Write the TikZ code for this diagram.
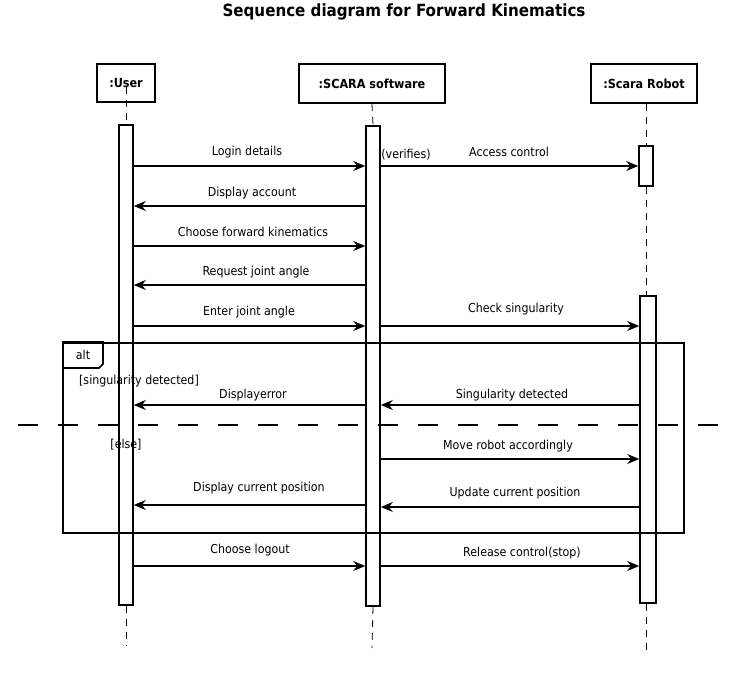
\documentclass[tikz,border=0pt]{standalone}
\usepackage{fontspec}
\setmainfont{DejaVu Sans Condensed}
\usetikzlibrary{arrows.meta}
\begin{document}
\begin{tikzpicture}[x=1pt,y=-1pt,
  head/.style={draw,line width=1.6pt,inner sep=0pt,font=\fontsize{12.5}{14}\selectfont\bfseries},
  act/.style={draw,line width=1.6pt,fill=white,inner sep=0pt,minimum width=14pt},
  life/.style={line width=0.8pt,dash pattern=on 7pt off 6pt},
  msg/.style={line width=1.5pt,-{Stealth[length=12pt,width=10pt]}},
  lbl/.style={font=\fontsize{12.3}{14}\selectfont,inner sep=0pt},
  frame/.style={line width=1.6pt}]
\useasboundingbox (0,0) rectangle (730,674);
% title
\node[font=\fontsize{16.8}{19}\selectfont\bfseries,inner sep=0pt] (title) at (404,12) {Sequence diagram for Forward Kinematics};
% heads
\node[head,minimum width=58pt,minimum height=38pt] (user) at (126,83) {:User};
\node[head,minimum width=146pt,minimum height=39pt] (soft) at (372,83.5) {:SCARA software};
\node[head,minimum width=106pt,minimum height=39pt] (robot) at (644,83.5) {:Scara Robot};
% lifeline end points
\coordinate (uend) at (126,645);
\coordinate (send) at (372,648);
\coordinate (rend) at (646,650);
\coordinate (ustart) at (126,87);
% activations
\node[act,minimum height=480pt] (ua) at (126,365) {};
\node[act,minimum height=480pt] (sa) at (373,366) {};
\node[act,minimum height=40pt] (ra1) at (646,166) {};
\node[act,minimum width=16pt,minimum height=307pt] (ra2) at (648,449.5) {};
% lifelines
\draw[life] (ustart) -- (ua.north);
\draw[life] (ua.south) -- (uend);
\draw[life] (soft.south) -- (sa.north);
\draw[life] (sa.south) -- (send);
\draw[life] (robot.south -| ra1.north) -- (ra1.north);
\draw[life] (ra1.south) -- (ra1.south |- ra2.north);
\draw[life] (ra2.south -| rend) -- (rend);
% redraw activations on top
\node[act,minimum height=480pt] at (126,365) {};
\node[act,minimum height=480pt] at (373,366) {};
\node[act,minimum height=40pt] at (646,166) {};
\node[act,minimum width=16pt,minimum height=307pt] at (648,449.5) {};
% alt frame
\node[draw,frame,minimum width=621pt,minimum height=190pt,anchor=north west,inner sep=0pt] (alt) at (62,342) {};
\draw[frame] (alt.north west) -- (103,342) -- (103,364) -- (99,368) -- (62,368);
\node[lbl] (altl) at (83,355) {alt};
\node[lbl] (g1) at (139,381) {[singularity detected]};
\node[lbl] (g2) at (126,445) {[else]};
\coordinate (dl) at (18,425);
\coordinate (dr) at (720,425);
\draw[line width=1.5pt,dash pattern=on 20pt off 20pt] (dl) -- (dr);
% message y coordinates
\coordinate (m1) at (0,166);
\coordinate (m2) at (0,206);
\coordinate (m3) at (0,246);
\coordinate (m4) at (0,285);
\coordinate (m5) at (0,326);
\coordinate (m6) at (0,405);
\coordinate (m7) at (0,459);
\coordinate (m8) at (0,505);
\coordinate (m9) at (0,507);
\coordinate (m10) at (0,566);
% messages
\draw[msg] (ua.east |- m1) -- (sa.west |- m1);
\node[lbl] at (247,152) {Login details};
\node[lbl] at (406,155) {(verifies)};
\draw[msg] (sa.east |- m1) -- (ra1.west |- m1);
\node[lbl] at (509,152) {Access control};
\draw[msg] (sa.west |- m2) -- (ua.east |- m2);
\node[lbl] at (252,193) {Display account};
\draw[msg] (ua.east |- m3) -- (sa.west |- m3);
\node[lbl] at (253,232) {Choose forward kinematics};
\draw[msg] (sa.west |- m4) -- (ua.east |- m4);
\node[lbl] at (256,272) {Request joint angle};
\draw[msg] (ua.east |- m5) -- (sa.west |- m5);
\node[lbl] at (249,312) {Enter joint angle};
\draw[msg] (sa.east |- m5) -- (ra2.west |- m5);
\node[lbl] at (516,309) {Check singularity};
\draw[msg] (sa.west |- m6) -- (ua.east |- m6);
\node[lbl] at (253,395) {Displayerror};
\draw[msg] (ra2.west |- m6) -- (sa.east |- m6);
\node[lbl] at (512,395) {Singularity detected};
\draw[msg] (sa.east |- m7) -- (ra2.west |- m7);
\node[lbl] at (508,446) {Move robot accordingly};
\draw[msg] (sa.west |- m8) -- (ua.east |- m8);
\node[lbl] at (259,488) {Display current position};
\draw[msg] (ra2.west |- m9) -- (sa.east |- m9);
\node[lbl] at (515,493) {Update current position};
\draw[msg] (ua.east |- m10) -- (sa.west |- m10);
\node[lbl] at (250,550) {Choose logout};
\draw[msg] (sa.east |- m10) -- (ra2.west |- m10);
\node[lbl] at (522,553) {Release control(stop)};
\end{tikzpicture}
\end{document}
